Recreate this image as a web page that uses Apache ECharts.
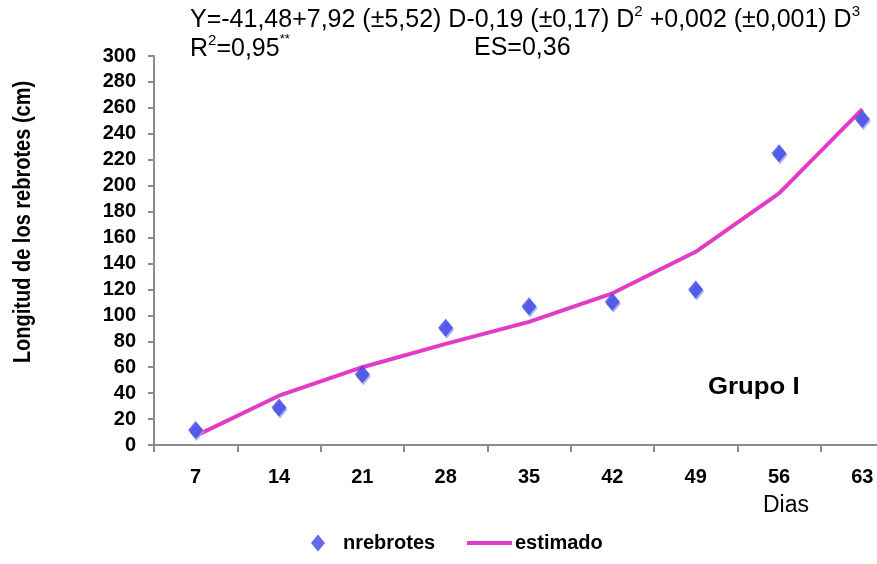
<!DOCTYPE html>
<html>
<head>
<meta charset="utf-8">
<script src="https://cdn.jsdelivr.net/npm/echarts@6/dist/echarts.min.js"></script>
<style>
  html, body { margin: 0; padding: 0; background: #fff; }
  #chart { width: 877px; height: 564px; }
</style>
</head>
<body>
<div id="chart"></div>
<script>
// Regrowth length by day, group I
const dias = [7, 14, 21, 28, 35, 42, 49, 56, 63];
const nrebrotes = [11.5, 29, 54.5, 90.5, 107, 110.5, 120, 225, 251.5];
const estimado = [7, 38, 60, 78, 95, 117, 149, 194, 259];
const dayTickBounds = [3.5, 10.5, 17.5, 24.5, 31.5, 38.5, 45.5, 52.5, 59.5];
const xRange = { min: 3.5, max: 64.23 };
const yRange = { min: 0, max: 300, interval: 20 };

const FONT = 'Liberation Sans, Arial, sans-serif';
const AXIS_GREY = '#8c8c8c';
const chart = echarts.init(document.getElementById('chart'));

const pairs = (xs, ys) => xs.map((x, i) => [x, ys[i]]);

chart.setOption({
  animation: false,
  backgroundColor: '#ffffff',
  textStyle: { fontFamily: FONT },
  grid: { left: 154, right: 0, top: 56, bottom: 119, containLabel: false },
  xAxis: {
    type: 'value',
    min: xRange.min,
    max: xRange.max,
    axisLine: { show: true, onZero: false, lineStyle: { color: AXIS_GREY, width: 2 } },
    axisTick: { show: true, length: 7, customValues: dayTickBounds, lineStyle: { color: AXIS_GREY, width: 2 } },
    axisLabel: { color: '#000', fontWeight: 'bold', fontSize: 20, margin: 22, fontFamily: FONT, customValues: dias, showMinLabel: true, showMaxLabel: true },
    splitLine: { show: false }
  },
  yAxis: {
    type: 'value',
    min: yRange.min,
    max: yRange.max,
    interval: yRange.interval,
    axisLine: { show: true, lineStyle: { color: AXIS_GREY, width: 2 } },
    axisTick: { show: true, length: 6, lineStyle: { color: AXIS_GREY, width: 2 } },
    axisLabel: { color: '#000', fontWeight: 'bold', fontSize: 20, margin: 18, fontFamily: FONT },
    splitLine: { show: false }
  },
  legend: [
    {
      left: 311,
      top: 533,
      padding: 0,
      itemWidth: 14,
      itemHeight: 17,
      icon: 'diamond',
      textStyle: { color: '#000', fontWeight: 'bold', fontSize: 20, fontFamily: FONT, padding: [0, 0, 0, 13] },
      data: ['nrebrotes']
    },
    {
      left: 467,
      top: 533,
      padding: 0,
      itemWidth: 45,
      itemHeight: 4,
      icon: 'rect',
      textStyle: { color: '#000', fontWeight: 'bold', fontSize: 20, fontFamily: FONT, padding: [0, 0, 0, -2] },
      data: ['estimado']
    }
  ],
  series: [
    {
      name: 'nrebrotes',
      type: 'scatter',
      data: pairs(dias, nrebrotes),
      symbol: 'diamond',
      symbolSize: [15, 18],
      itemStyle: {
        color: '#4242e6',
        shadowColor: '#86a8ea',
        shadowOffsetX: 1,
        shadowOffsetY: 2,
        shadowBlur: 0
      },
      z: 3
    },
    {
      name: 'estimado',
      type: 'line',
      data: pairs(dias, estimado),
      symbol: 'none',
      smooth: false,
      lineStyle: { color: '#e23cc6', width: 4 },
      itemStyle: { color: '#e23cc6' },
      z: 2
    }
  ],
  graphic: [
    {
      type: 'text',
      left: 190,
      top: 4,
      style: {
        text: 'Y=-41,48+7,92 (±5,52) D-0,19 (±0,17) D{sup|2} +0,002 (±0,001) D{sup|3}',
        font: '25px ' + FONT,
        fill: '#000',
        rich: {
          sup: { fontSize: 15, fontFamily: FONT, verticalAlign: 'top', padding: [0, 0, 18, 0] }
        }
      }
    },
    {
      type: 'text',
      left: 190,
      top: 33,
      style: {
        text: 'R{sup|2}=0,95{sup2|**}',
        font: '25px ' + FONT,
        fill: '#000',
        rich: {
          sup: { fontSize: 15, fontFamily: FONT, verticalAlign: 'top', padding: [0, 0, 18, 0] },
          sup2: { fontSize: 13, fontFamily: FONT, verticalAlign: 'top', padding: [0, 0, 20, 0] }
        }
      }
    },
    {
      type: 'text',
      left: 474,
      top: 36,
      style: { text: 'ES=0,36', font: '25px ' + FONT, fill: '#000' }
    },
    {
      type: 'text',
      x: 23,
      y: 222,
      rotation: Math.PI / 2,
      scaleY: 1.2,
      style: {
        text: 'Longitud de los rebrotes (cm)',
        font: 'bold 20px ' + FONT,
        fill: '#000',
        align: 'center',
        verticalAlign: 'middle'
      }
    },
    {
      type: 'text',
      x: 708,
      y: 376,
      scaleX: 1.12,
      style: { text: 'Grupo I', font: 'bold 23px ' + FONT, fill: '#000' }
    },
    {
      type: 'text',
      left: 763,
      top: 494,
      style: { text: 'Dias', font: '23px ' + FONT, fill: '#000' }
    }
  ]
});
</script>
</body>
</html>
